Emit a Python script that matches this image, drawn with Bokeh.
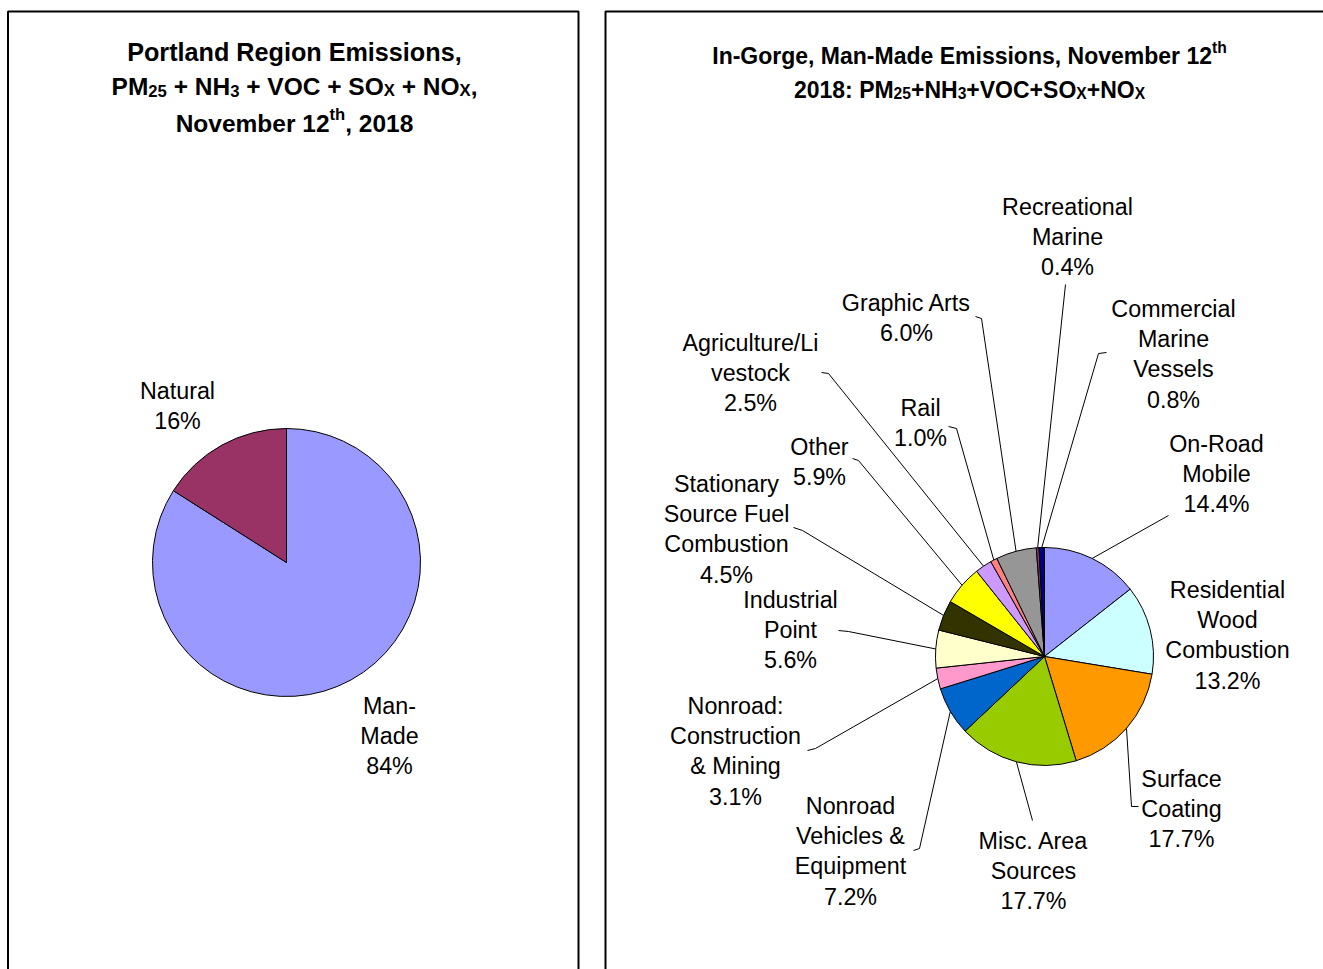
from bokeh.plotting import figure
from bokeh.models import Range1d
from bokeh.core.properties import value
from bokeh.embed import file_html
from bokeh.resources import INLINE
import numpy as np

# ---------------- data ----------------
left_cats = ["Man-\nMade", "Natural"]
left_vals = [84, 16]
left_colors = ["#9999FF", "#993366"]

right_cats = ["On-Road\nMobile", "Residential\nWood\nCombustion", "Surface\nCoating",
              "Misc. Area\nSources", "Nonroad\nVehicles &\nEquipment",
              "Nonroad:\nConstruction\n& Mining", "Industrial\nPoint",
              "Stationary\nSource Fuel\nCombustion", "Other", "Agriculture/Li\nvestock",
              "Rail", "Graphic Arts", "Recreational\nMarine", "Commercial\nMarine\nVessels"]
right_vals = [14.4, 13.2, 17.7, 17.7, 7.2, 3.1, 5.6, 4.5, 5.9, 2.5, 1.0, 6.0, 0.4, 0.8]
right_colors = ["#9999FF", "#CCFFFF", "#FF9900", "#99CC00", "#0066CC", "#FF99CC", "#FFFFCC",
                "#333300", "#FFFF00", "#CC99FF", "#FF8080", "#969696", "#993366", "#000080"]

left_title = [
    [("Portland Region Emissions,", "n")],
    [("PM", "n"), ("25", "b"), (" + NH", "n"), ("3", "b"), (" + VOC + SO", "n"), ("X", "b"),
     (" + NO", "n"), ("X", "b"), (",", "n")],
    [("November 12", "n"), ("th", "p"), (", 2018", "n")],
]
right_title = [
    [("In-Gorge, Man-Made Emissions, November 12", "n"), ("th", "p")],
    [("2018: PM", "n"), ("25", "b"), ("+NH", "n"), ("3", "b"), ("+VOC+SO", "n"), ("X", "b"),
     ("+NO", "n"), ("X", "b")],
]

# ---------------- layout (screen pixels) ----------------
W, H = 1323, 969


def X(sx):
    return sx


def Y(sy):
    return H - sy


LEFT_C, LEFT_R = (286, 562), 134
RIGHT_C, RIGHT_R = (1044, 656), 109
LABEL_SIZE = 23.3
LINE_H = 30.4

left_label_pos = [(389, 705), (177, 390)]
right_label_pos = [(1216, 443), (1227, 589), (1181, 778), (1033, 840), (850, 805), (735, 705),
                   (790, 599), (726, 483), (819, 446), (750, 342), (920, 407), (906, 302),
                   (1067, 206), (1173, 308)]
# leader start / knee points (None = no leader)
right_leaders = [((1168, 515), (1168, 515)), None, ((1138, 806), (1131, 806)),
                 ((1032, 820), (1032, 820)), ((913, 850), (919, 848)),
                 ((807, 750), (815, 748)), ((838, 630), (848, 631)),
                 ((793, 527), (802, 530)), ((852, 458), (858, 460)),
                 ((821, 372), (828, 373)), ((948, 426), (956, 428)),
                 ((975, 316), (981, 318)), ((1065, 284), (1065, 284)),
                 ((1106, 352), (1098, 353))]

BOLD_W = {' ': 278, ',': 278, '-': 333, '.': 278, ':': 333, '+': 584,
          'A': 722, 'B': 722, 'C': 722, 'D': 722, 'E': 667, 'F': 611, 'G': 778, 'H': 722,
          'I': 278, 'J': 556, 'K': 722, 'L': 611, 'M': 833, 'N': 722, 'O': 778, 'P': 667,
          'Q': 778, 'R': 722, 'S': 667, 'T': 611, 'U': 722, 'V': 667, 'W': 944, 'X': 667,
          'Y': 667, 'Z': 611,
          'a': 556, 'b': 611, 'c': 556, 'd': 611, 'e': 556, 'f': 333, 'g': 611, 'h': 611,
          'i': 278, 'j': 278, 'k': 556, 'l': 278, 'm': 889, 'n': 611, 'o': 611, 'p': 611,
          'q': 611, 'r': 389, 's': 556, 't': 333, 'u': 611, 'v': 556, 'w': 778, 'x': 556,
          'y': 556, 'z': 500}
for d in "0123456789":
    BOLD_W[d] = 556

FONT = "Liberation Sans"

p = figure(width=W, height=H, x_range=Range1d(0, W), y_range=Range1d(0, H),
           output_backend="svg", toolbar_location=None, x_axis_type=None,
           y_axis_type=None, min_border=0)
p.outline_line_color = None
p.background_fill_color = "white"
p.border_fill_color = "white"

# panel borders
p.line(x=[X(7.5), X(7.5), X(578), X(578)], y=[Y(990), Y(11), Y(11), Y(990)],
       line_color="black", line_width=2)
p.line(x=[X(605), X(605), X(1340)], y=[Y(990), Y(11), Y(11)],
       line_color="black", line_width=2)


def draw_pie(vals, colors, center, r):
    v = np.array(vals, dtype=float)
    fr = v / v.sum()
    cum = np.concatenate([[0.0], np.cumsum(fr)])
    start = np.pi / 2 - 2 * np.pi * cum[1:]
    end = np.pi / 2 - 2 * np.pi * cum[:-1]
    n = len(v)
    cx, cy = X(center[0]), Y(center[1])
    p.wedge(x=[cx] * n, y=[cy] * n, radius=r, start_angle=list(start), end_angle=list(end),
            fill_color=colors, line_color="black", line_width=1)
    mid = np.pi / 2 - 2 * np.pi * (cum[:-1] + cum[1:]) / 2
    return cx + r * np.cos(mid), cy + r * np.sin(mid)


def draw_labels(cats, vals, pos, fmt):
    xs, ys, ts = [], [], []
    for cat, v, (lx, ly) in zip(cats, vals, pos):
        lines = cat.split("\n") + [fmt.format(v)]
        for k, t in enumerate(lines):
            xs.append(X(lx))
            ys.append(Y(ly + k * LINE_H))
            ts.append(t)
    p.text(x=xs, y=ys, text=ts, text_font=value(FONT), text_font_size=f"{LABEL_SIZE}px",
           text_align="center", text_baseline="middle", text_color="black")


def width_of(txt, s):
    return sum(BOLD_W.get(ch, 556) for ch in txt) / 1000.0 * s


def rich_line(segs, cx, base, size):
    pieces = []
    total = 0.0
    for txt, kind in segs:
        s = size if kind == "n" else size * 0.68
        w = width_of(txt, s)
        pieces.append((txt, kind, s, w))
        total += w
    x = cx - total / 2
    for txt, kind, s, w in pieces:
        off = 0.0
        if kind == "b":
            off = 0.17 * size
        elif kind == "p":
            off = -0.36 * size
        lead = len(txt) - len(txt.lstrip(" "))
        core = txt.strip(" ")
        x0 = x + width_of(" " * lead, s)
        p.text(x=[X(x0)], y=[Y(base + off)], text=[core], text_font=value(FONT),
               text_font_style="bold", text_font_size=f"{s:.2f}px", text_align="left",
               text_baseline="alphabetic", text_color="black")
        x += w


# left pie
draw_pie(left_vals, left_colors, LEFT_C, LEFT_R)
draw_labels(left_cats, left_vals, left_label_pos, "{:.0f}%")

# right pie
ex, ey = draw_pie(right_vals, right_colors, RIGHT_C, RIGHT_R)
lxs, lys = [], []
for i, ld in enumerate(right_leaders):
    if ld is None:
        continue
    (sx0, sy0), (kx, ky) = ld
    lxs.append([X(sx0), X(kx), ex[i]])
    lys.append([Y(sy0), Y(ky), ey[i]])
p.multi_line(xs=lxs, ys=lys, line_color="black", line_width=1)
draw_labels(right_cats, right_vals, right_label_pos, "{:.1f}%")

# titles
left_sizes = [25.2, 24.5, 24.5]
for segs, base, sz in zip(left_title, [51, 86, 123], left_sizes):
    rich_line(segs, 294, base, sz)
for segs, base in zip(right_title, [55, 89]):
    rich_line(segs, 969, base, 23.0)

open("out.html", "w").write(file_html(p, INLINE))
